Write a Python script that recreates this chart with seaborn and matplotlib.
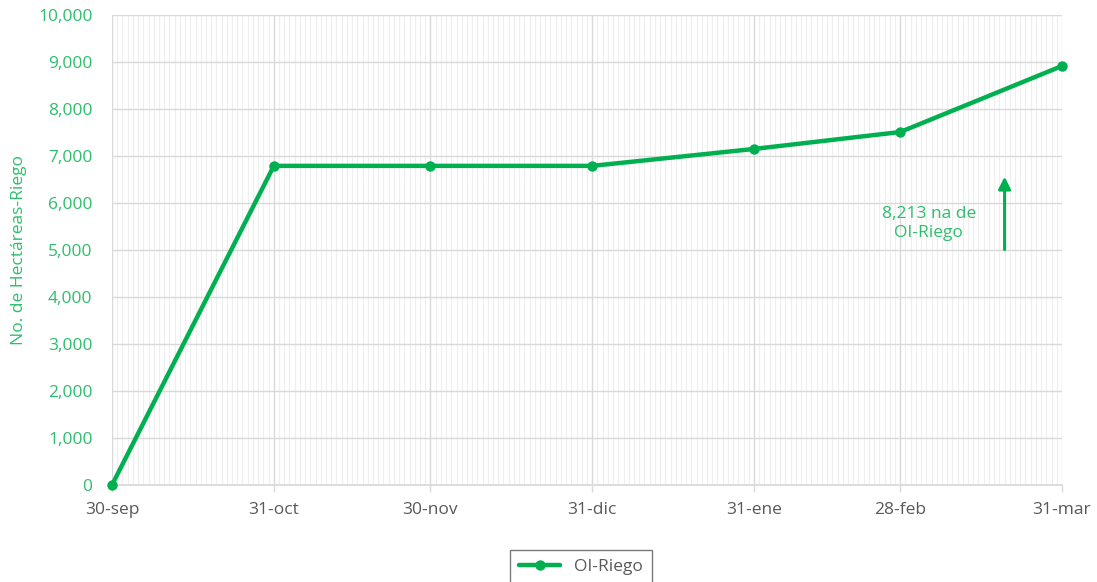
import matplotlib
matplotlib.use("Agg")
import matplotlib.pyplot as plt
import matplotlib.dates as mdates
import matplotlib.ticker as mticker
import seaborn as sns
import pandas as pd

dates = ["2022-09-30", "2022-10-31", "2022-11-30", "2022-12-31", "2023-01-31", "2023-02-28", "2023-03-31"]
tick_labels = ["30-sep", "31-oct", "30-nov", "31-dic", "31-ene", "28-feb", "31-mar"]
values = [0, 6790, 6790, 6790, 7150, 7510, 8915]
series_name = "OI-Riego"
annot_text = "8,213 na de\nOI-Riego"

GREEN = "#00B050"
GREEN_TXT = "#2DBE6C"
GRAY_TXT = "#595959"
FS = 12.5

sns.set_theme(style="white")
plt.rcParams["font.family"] = ["Open Sans", "DejaVu Sans"]

df = pd.DataFrame({"fecha": pd.to_datetime(dates), "ha": values, "serie": series_name})

fig = plt.figure(figsize=(10.97, 5.82), dpi=100)
ax = fig.add_axes([112/1097, 1 - 485/582, (1062-112)/1097, (485-15)/582])

sns.lineplot(data=df, x="fecha", y="ha", hue="serie", palette=[GREEN], ax=ax,
             linewidth=3.2, marker="o", markersize=7.5, markeredgewidth=0, zorder=5)
for ln in ax.get_lines():
    ln.set_clip_on(False)

xnum = mdates.date2num(df["fecha"])
ax.set_xlim(xnum[0], xnum[-1])
ax.set_ylim(0, 10000)
ax.xaxis.set_major_locator(mticker.FixedLocator(xnum))
ax.xaxis.set_major_formatter(mticker.FixedFormatter(tick_labels))
ax.xaxis.set_minor_locator(mdates.DayLocator())
ax.yaxis.set_major_locator(mticker.MultipleLocator(1000))
ax.yaxis.set_major_formatter(mticker.FuncFormatter(lambda v, p: f"{int(v):,}"))

ax.grid(which="major", axis="both", color="#D9D9D9", linewidth=1.0, zorder=0)
ax.grid(which="minor", axis="x", color="#EEEEEE", linewidth=0.8, zorder=0)
ax.set_axisbelow(True)
for s in ax.spines.values():
    s.set_visible(False)
ax.spines["bottom"].set_visible(True)
ax.spines["bottom"].set_color("#D9D9D9")

ax.tick_params(axis="x", which="major", length=5, color="#D9D9D9", width=1,
               labelsize=FS, labelcolor=GRAY_TXT, pad=7, direction="out", bottom=True)
ax.tick_params(axis="x", which="minor", length=0)
ax.tick_params(axis="y", length=0, labelsize=FS, labelcolor=GREEN_TXT, pad=14)

ax.set_xlabel("")
ax.set_ylabel("No. de Hectáreas-Riego", color=GREEN_TXT, fontsize=FS, labelpad=8)

ax.text(xnum[5] + 5.5, 5560, annot_text, ha="center", va="center",
        color=GREEN_TXT, fontsize=FS, linespacing=1.3)
ax.annotate("", xy=(xnum[5] + 20, 6620), xytext=(xnum[5] + 20, 4950),
            arrowprops=dict(arrowstyle="-|>,head_length=0.6,head_width=0.3",
                            color=GREEN, lw=2.2))

leg = ax.legend(loc="center", bbox_to_anchor=(581/1097, 1 - 567/582),
                bbox_transform=fig.transFigure, frameon=True, fontsize=FS,
                handlelength=2.4, borderpad=0.5, fancybox=False)
leg.get_frame().set_edgecolor("#595959")
leg.get_frame().set_linewidth(1.0)
for t in leg.get_texts():
    t.set_color(GRAY_TXT)

fig.savefig("out.png", dpi=100)
